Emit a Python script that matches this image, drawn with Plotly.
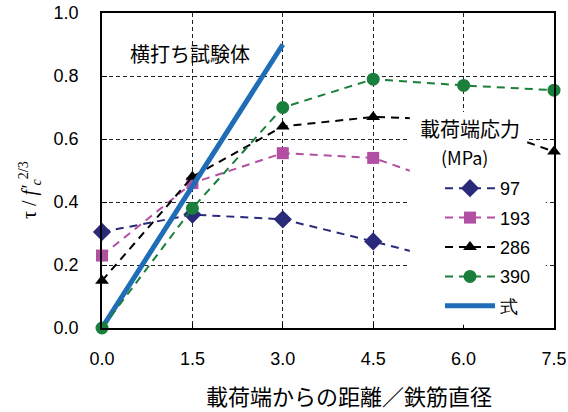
import plotly.graph_objects as go

x_pos = [0.0, 1.5, 3.0, 4.5, 6.0, 7.5]
s97 = [0.305, 0.36, 0.345, 0.275, 0.20, None]
s193 = [0.23, 0.46, 0.555, 0.54, 0.44, None]
s286 = [0.15, 0.48, 0.64, 0.67, 0.66, 0.56]
s390 = [0.0, 0.38, 0.70, 0.79, 0.77, 0.755]
formula_x = [0.0, 3.0]
formula_y = [0.0, 0.9]

series = [
    ("97", s97, "#2A2A7A", "diamond", 14),
    ("193", s193, "#B24FA2", "square", 12),
    ("286", s286, "#000000", "triangle-up", 12),
    ("390", s390, "#1A7F3C", "circle", 13),
]

fig = go.Figure()
for i, (name, ys, col, sym, sz) in enumerate(series):
    if name == "390":
        fig.add_trace(go.Scatter(
            x=formula_x, y=formula_y, name="式", mode="lines",
            line=dict(color="#1F6DB6", width=5), legendgroup="f", legendrank=10,
        ))
    fig.add_trace(go.Scatter(
        x=x_pos, y=ys, name=name, mode="lines+markers",
        line=dict(color=col, width=2, dash="8px,6px"),
        marker=dict(symbol=sym, size=sz, color=col),
        connectgaps=False, cliponaxis=False, legendgroup="g" + name, legendrank=i + 1,
    ))

SANS = "Liberation Sans"
JP = "Noto Sans CJK JP"

# white box behind the legend (hides lines like the reference)
fig.add_shape(type="rect", xref="paper", yref="paper", x0=0.681, x1=0.94, y0=0.55, y1=0.686,
              fillcolor="white", line=dict(width=0), layer="above")
fig.add_shape(type="rect", xref="paper", yref="paper", x0=0.681, x1=0.982, y0=0.01, y1=0.55,
              fillcolor="white", line=dict(width=0), layer="above")

fig.add_annotation(x=(470 - 102) / 452, y=(328 - 128) / 315, xref="paper", yref="paper",
                   text="載荷端応力", showarrow=False, xanchor="center", yanchor="middle",
                   font=dict(family=JP, size=20, color="#000"))
fig.add_annotation(x=(464 - 102) / 452, y=(328 - 157) / 315, xref="paper", yref="paper",
                   text="(MPa)", showarrow=False, xanchor="center", yanchor="middle",
                   font=dict(family=JP, size=18, color="#000"))

fig.add_annotation(
    x=(128 - 102) / 452, y=(328 - 53) / 315, xref="paper", yref="paper", text="横打ち試験体",
    showarrow=False, xanchor="left", yanchor="middle",
    font=dict(family=JP, size=20, color="#000"),
)
fig.add_annotation(
    x=(349 - 102) / 452, y=(328 - 395) / 315, xref="paper", yref="paper",
    text="載荷端からの距離／鉄筋直径", showarrow=False, xanchor="center", yanchor="middle",
    font=dict(family=JP, size=22, color="#000"),
)
fig.add_annotation(
    x=(30 - 102) / 452, y=(328 - 190) / 315, xref="paper", yref="paper",
    text="τ / <i>f′<sub>c</sub></i><sup>2/3</sup>", textangle=-90, showarrow=False,
    xanchor="center", yanchor="middle",
    font=dict(family="Liberation Serif", size=20, color="#000"),
)

axis_common = dict(
    showline=True, linecolor="black", linewidth=1.5, mirror=True,
    showgrid=True, gridcolor="#222", gridwidth=1, griddash="4px,3px",
    ticks="inside", ticklen=5, tickcolor="black",
    tickfont=dict(family=SANS, size=18, color="#000"),
    zeroline=False, automargin=False,
)

fig.update_xaxes(range=[0, 7.5], dtick=1.5, tick0=0, tickformat=".1f",
                 ticklabelstandoff=14, **axis_common)
fig.update_yaxes(range=[0, 1.0], dtick=0.2, tick0=0, tickformat=".1f",
                 ticklabelstandoff=18, **axis_common)

fig.update_layout(
    width=568, height=412,
    margin=dict(l=102, r=14, t=13, b=84),
    paper_bgcolor="white", plot_bgcolor="white",
    showlegend=True,
    legend=dict(
        x=(440 - 102) / 452, y=(328 - 170) / 315, xanchor="left", yanchor="top",
        bgcolor="rgba(0,0,0,0)", borderwidth=0,
        font=dict(family=SANS, size=18, color="#000"),
        traceorder="grouped", tracegroupgap=3, itemwidth=50,
    ),
)

fig.write_html("out.html", config={"displayModeBar": False},
               post_script="document.body.style.margin='0';document.body.style.padding='0';")
